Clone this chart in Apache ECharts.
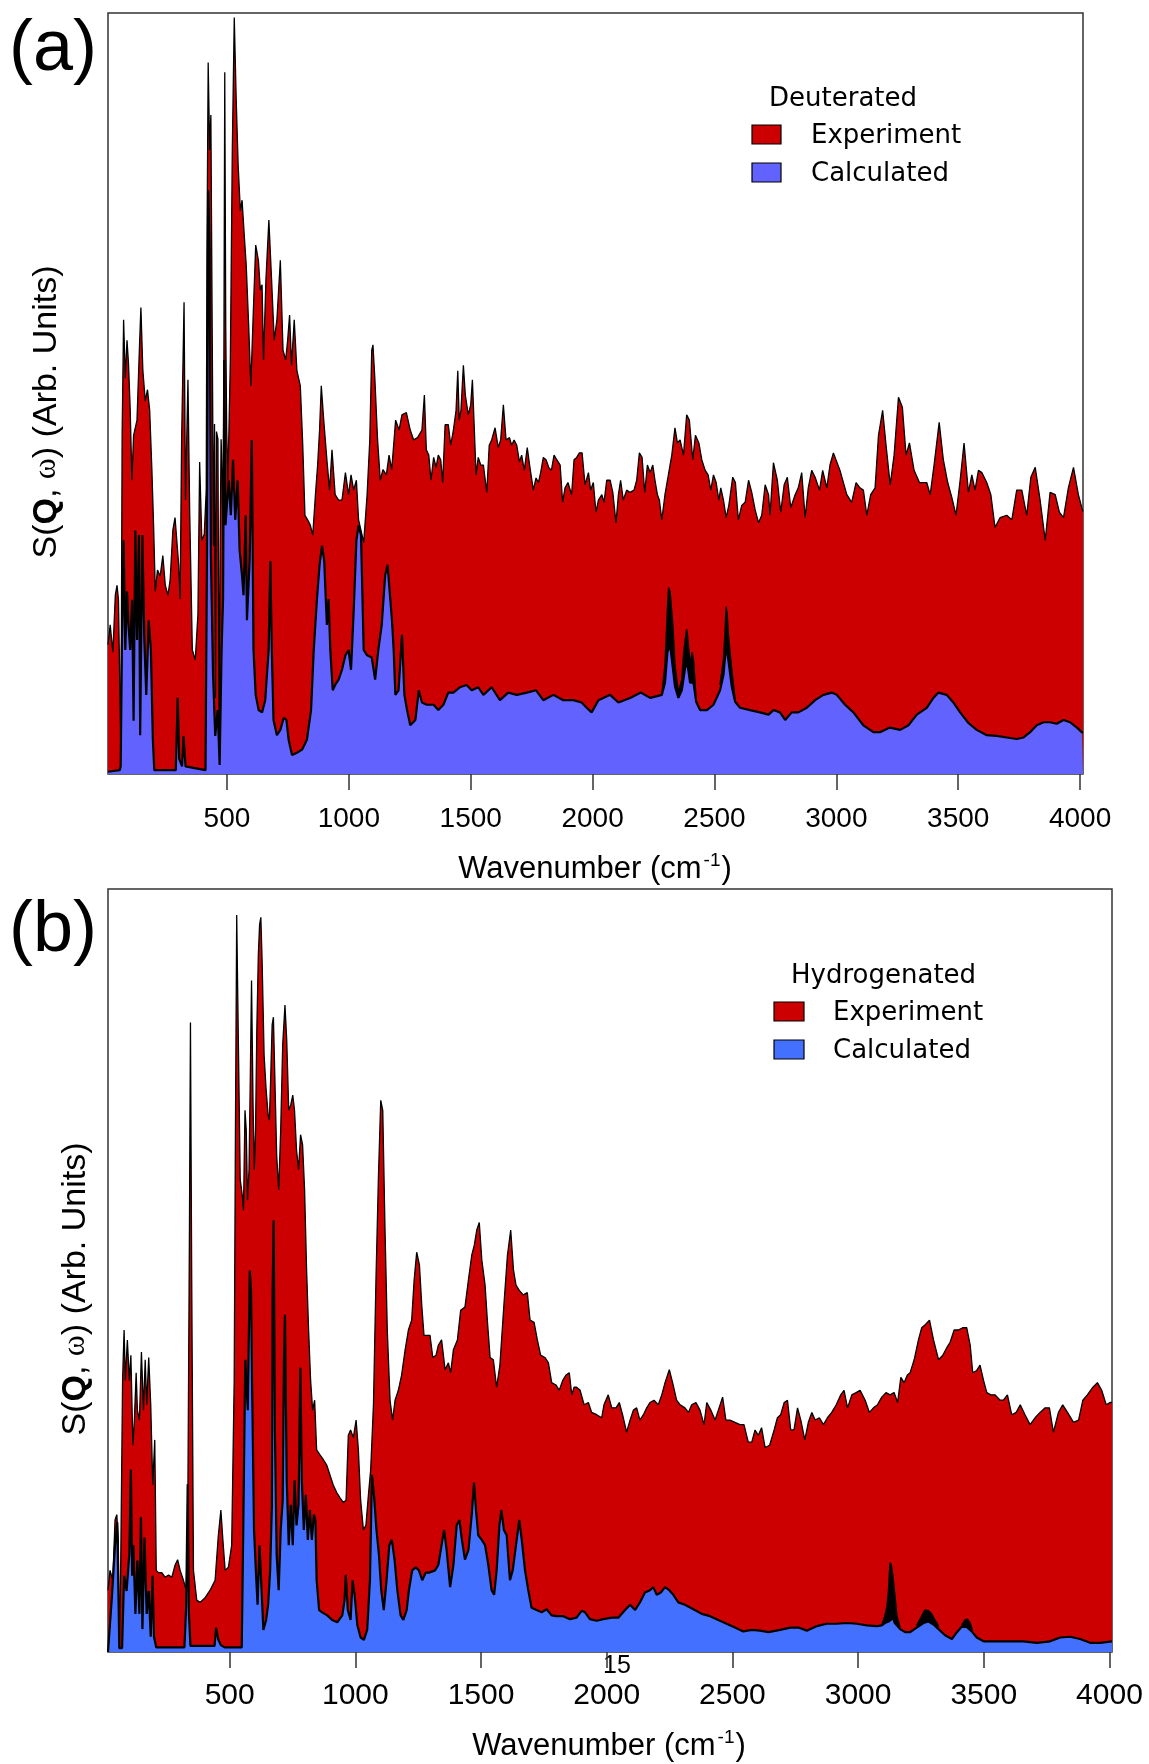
<!DOCTYPE html>
<html><head><meta charset="utf-8">
<script src="https://cdn.jsdelivr.net/npm/echarts@6/dist/echarts.min.js"></script>
<style>html,body{margin:0;padding:0;background:#fff}#c{width:1149px;height:1764px}</style>
</head><body><div id="c"></div>
<script>
// Tick labels (wavenumber, cm-1)
const tickValues = [500, 1000, 1500, 2000, 2500, 3000, 3500, 4000];

// Panel (a) Deuterated: experiment [wavenumber, S(Q,w) arb. units]
const deutExp = [[12,17],[21,19.6],[32,16],[42,23.5],[49,24.8],[55,22.9],[65,2],[70,44.5],[76,59.7],[83,52],[90,57],[96,54],[103,48],[110,38.6],[117,44.5],[131,46.5],[142,57],[147,61.3],[155,53],[165,49],[174,50.5],[183,47.8],[192,40],[199,32.7],[206,24],[215,26.8],[226,26],[237,28.7],[247,24.8],[258,23.5],[267,25.5],[278,32],[287,33.7],[302,27.5],[308,23],[314,43.9],[324,62],[330,36],[340,51.8],[347,34.7],[358,16.3],[370,15],[381,21],[388,41],[397,30.7],[407,31.5],[415,37.3],[418,68.9],[423,93.5],[429,82],[434,86.6],[440,55.7],[445,30],[449,46],[453,10],[457,45],[463,44],[468,3],[472,30],[476,44],[480,40],[484,29.4],[487,50],[491,92.2],[495,59],[499,45],[504,38.6],[514,54.4],[522,82],[530,99.4],[538,88.6],[546,80],[555,74],[562,75.4],[571,70.8],[579,66.9],[589,59],[598,51],[607,59.7],[618,69.5],[629,67.5],[637,63.6],[644,64.3],[650,54.4],[660,65],[672,72.8],[683,65],[694,57],[705,59.7],[719,67.5],[730,55.7],[741,54.4],[749,57],[757,60.3],[765,53.7],[776,59.7],[787,53],[801,51],[811,43.2],[820,34],[831,33.4],[842,32.7],[852,31.4],[863,36.7],[872,40.6],[880,45.2],[887,51],[897,46.5],[910,41.3],[921,37.3],[931,42.6],[944,36.7],[958,36],[972,36],[986,39.6],[999,36.7],[1009,39.3],[1020,37.3],[1031,38.6],[1040,33.4],[1050,32],[1061,30.4],[1075,36.7],[1086,43.9],[1094,55.7],[1099,56.4],[1107,51.8],[1118,43.9],[1129,38.6],[1140,40],[1154,39.3],[1165,41.9],[1176,40],[1192,46.5],[1206,45.2],[1218,47.2],[1236,47.5],[1252,45.2],[1266,43.9],[1282,44.2],[1300,45.2],[1310,49.8],[1318,42.6],[1328,41.9],[1337,38.6],[1348,41.6],[1358,40.3],[1367,41.9],[1377,41.3],[1385,38.3],[1395,45.9],[1408,45.9],[1418,43.2],[1429,45.2],[1440,47.8],[1447,53],[1453,46.5],[1460,47.8],[1470,53.7],[1478,49.8],[1490,47.2],[1500,48.5],[1507,51.8],[1522,39.3],[1531,41.6],[1541,40.6],[1552,40.6],[1566,37],[1576,43.2],[1586,43.9],[1600,45.5],[1613,42.9],[1623,43.9],[1634,48.5],[1645,43.9],[1659,44.2],[1668,43.2],[1678,43.9],[1689,43.2],[1700,41],[1709,41.9],[1720,39.9],[1732,42.9],[1743,40.3],[1757,37.3],[1768,38.9],[1778,38.3],[1787,39.6],[1798,41.6],[1809,41.3],[1820,40.3],[1831,39.9],[1842,41.9],[1853,41.3],[1867,40.6],[1877,35.7],[1887,37.6],[1899,38.3],[1914,36.7],[1924,41.3],[1935,41.6],[1946,42.2],[1957,42.2],[1969,38],[1983,39.6],[1992,37.3],[2003,38.3],[2014,34.4],[2024,36],[2038,36.7],[2047,35.7],[2058,38.6],[2072,38.6],[2083,37],[2096,33],[2106,36.7],[2115,38.6],[2126,36],[2140,37.3],[2154,37],[2170,37.3],[2181,38.6],[2192,42.2],[2203,41.6],[2214,37],[2225,40.6],[2236,39.6],[2247,40.6],[2256,38.6],[2266,36.7],[2274,36],[2284,33.4],[2297,36.7],[2311,39.3],[2325,41.9],[2338,45.5],[2348,43.5],[2359,43.9],[2373,41.9],[2386,47.2],[2397,46.5],[2411,41.3],[2422,44.5],[2436,43.5],[2448,41.3],[2462,39.9],[2474,39.3],[2485,37.3],[2496,39.3],[2507,38.3],[2518,36],[2526,37.6],[2537,36],[2548,33.7],[2559,35.3],[2575,39],[2586,38.3],[2598,33.4],[2612,35.3],[2626,35.7],[2640,38.6],[2653,37],[2667,34.7],[2681,33],[2694,34],[2708,38],[2722,36.7],[2728,34],[2742,40.9],[2758,38.6],[2772,34.4],[2786,38],[2799,39],[2813,35],[2831,36.7],[2844,37.6],[2858,39.6],[2872,33.7],[2885,37.6],[2899,39.9],[2913,39],[2931,37.3],[2944,39.9],[2961,37.6],[2974,40.6],[2988,42.2],[3015,39.9],[3043,36.7],[3063,35.7],[3081,38.3],[3097,37.6],[3111,37.3],[3125,34],[3141,36.7],[3159,37.6],[3173,44.5],[3190,47.8],[3204,43.2],[3221,38],[3237,41.9],[3255,49.5],[3271,48.2],[3286,41.9],[3300,43.5],[3319,39.9],[3341,38.3],[3357,38.3],[3371,38.3],[3385,36.7],[3401,40.6],[3422,46.2],[3439,41.3],[3457,38.3],[3474,36.3],[3491,34],[3508,38.6],[3524,43.5],[3542,37],[3556,39.3],[3569,37.3],[3583,39.9],[3597,39.6],[3617,38.3],[3634,36.7],[3651,32.4],[3672,33.7],[3699,34],[3720,33.4],[3740,37.3],[3761,37.3],[3781,34],[3798,39],[3816,40.3],[3836,36],[3857,30.7],[3877,37],[3898,36.7],[3915,34.4],[3932,33.7],[3952,37.6],[3973,40.3],[3993,36.7],[4007,35],[4012,34.5]];

// Panel (a) Deuterated: calculated
const deutCalc = [[12,0.3],[60,0.5],[64,1],[69,16.3],[76,30.7],[83,16.3],[90,24],[96,19.6],[103,16.3],[111,22.9],[117,7],[124,32],[131,17.6],[139,31.4],[144,5.1],[153,31.4],[161,17.6],[169,10.4],[179,20.2],[188,16.3],[196,4.5],[202,0.5],[290,0.5],[298,10],[304,2],[316,1],[322,5],[330,1],[412,0.5],[418,29],[423,76.7],[429,69],[434,29],[443,13],[452,5],[462,8.4],[470,1.2],[478,16.3],[484,23],[489,54.4],[494,32.7],[507,38.6],[516,34],[525,41.3],[534,33.4],[544,38.6],[552,29.4],[562,26],[568,23.5],[577,34],[582,20.2],[593,28],[602,43.9],[609,16.3],[618,10.4],[630,8.4],[644,8.1],[657,9.7],[671,16.3],[678,28],[684,16.3],[691,7.1],[705,5.1],[719,5.8],[733,7.4],[744,7.1],[753,4.5],[767,2.5],[787,2.8],[808,3.2],[828,4.5],[845,8.4],[856,16.3],[869,22.9],[880,27.5],[890,30],[899,28],[910,19.6],[917,23],[924,16.3],[934,11],[944,11.7],[958,12.4],[972,13.7],[986,15.6],[999,16.3],[1009,13.7],[1020,21.5],[1031,30.7],[1040,32.7],[1050,31.4],[1061,16.3],[1075,15.6],[1094,15.3],[1108,12.4],[1121,16.3],[1135,19.6],[1149,26.1],[1159,27.5],[1167,24.2],[1177,20.2],[1184,16.3],[1191,10.4],[1204,11],[1218,18.3],[1228,10.4],[1239,8.4],[1252,6.4],[1273,7.1],[1287,11],[1300,9.4],[1320,9.1],[1348,9.1],[1367,8.4],[1388,9.1],[1408,10.7],[1429,10.7],[1456,11.4],[1483,11.7],[1504,11],[1531,11.4],[1552,10.4],[1586,11.4],[1620,9.7],[1654,10.7],[1689,10.4],[1730,10.7],[1768,11],[1798,9.7],[1839,10.4],[1880,9.7],[1921,9.7],[1955,9.4],[1976,8.7],[1996,8.1],[2024,9.7],[2072,10.4],[2106,9.4],[2154,10],[2198,10.7],[2236,10],[2284,10.4],[2297,12],[2307,16],[2318,17],[2329,14],[2338,11.5],[2352,10],[2366,11],[2380,14],[2389,14.5],[2400,12],[2414,12],[2425,9.5],[2441,8.4],[2469,8.4],[2496,9.1],[2523,11],[2537,13],[2548,17],[2557,15],[2571,11.5],[2585,9.5],[2605,8.7],[2646,8.4],[2687,8.1],[2722,7.8],[2742,8.4],[2769,8.1],[2790,7.1],[2817,8.1],[2844,8.1],[2879,8.7],[2913,9.7],[2947,10.4],[2981,10.7],[3002,10.4],[3036,9.1],[3070,8.1],[3111,6.4],[3152,5.5],[3179,5.5],[3220,6.1],[3262,5.8],[3296,6.4],[3330,7.8],[3371,8.7],[3398,10],[3419,10.7],[3453,10.4],[3480,9.4],[3508,8.1],[3542,6.7],[3576,5.8],[3617,5.1],[3658,5],[3699,4.8],[3740,4.6],[3768,4.8],[3795,5.5],[3822,6.4],[3850,6.8],[3877,6.8],[3904,6.6],[3932,7.1],[3959,6.8],[3987,6.1],[4007,5.5],[4012,5.4]];

// Panel (a): upper edge of the noisy black band around the calculated peaks
const deutCalcBand1 = [[2284,10.4],[2297,14.3],[2307,21.5],[2312,24.5],[2318,23.9],[2329,19.6],[2338,14.3],[2352,10.7],[2366,12.4],[2374,16],[2380,17.6],[2386,19],[2389,18.3],[2400,14.3],[2408,16],[2414,15],[2425,9.7]];
const deutCalcBand2 = [[2523,11.7],[2537,15],[2544,19],[2548,22],[2552,21],[2557,18.3],[2571,13.7],[2585,9.7]];

// Panel (b) Hydrogenated: experiment
const hydExp = [[16,8.1],[24,10.7],[35,9.4],[44,17.3],[51,18],[57,14.7],[61,0.3],[66,9.4],[74,35.6],[80,42.2],[85,35.6],[93,40.9],[101,35.6],[107,38.9],[115,27.1],[121,30.4],[128,36.6],[133,31.7],[141,30.4],[149,39.3],[157,31.7],[164,38.3],[170,32.4],[178,38.6],[186,32.4],[194,21.9],[202,27.8],[208,10.7],[217,10.4],[230,10.4],[243,9.8],[257,10.1],[270,9.8],[283,11.4],[293,12.1],[303,10.7],[316,9.4],[327,8.1],[333,16],[340,55.3],[344,82.5],[349,48.8],[356,10.7],[369,6.8],[382,6.5],[402,7.1],[422,8.1],[442,9.4],[455,15.3],[465,18.6],[473,14.7],[482,10.7],[495,11.1],[508,14],[518,35.6],[523,68.4],[528,96.6],[534,81.5],[542,61.9],[550,59.9],[555,57.9],[561,71],[566,68.4],[571,59.2],[577,63.2],[582,75],[587,88],[593,71.7],[598,63.2],[603,68.4],[608,81.5],[614,91.3],[619,95.3],[624,96.3],[629,90.7],[637,78.2],[645,73.7],[653,70.4],[658,69.7],[663,75],[669,82.2],[674,83.2],[679,76.3],[687,65.1],[695,60.6],[703,68.4],[711,79.6],[720,84.8],[727,80.2],[735,71],[743,71.7],[751,73],[758,71],[766,65.8],[774,63.2],[782,67.8],[790,66.5],[798,60.6],[806,50.1],[814,42.2],[822,35.6],[830,31.7],[838,33],[846,26.5],[860,25.8],[873,25.2],[886,24.5],[899,23.2],[912,21.9],[926,20.9],[939,20.2],[952,19.6],[963,19.9],[972,28.4],[981,29.1],[992,28.1],[1003,30.4],[1012,26.5],[1021,19.9],[1032,16],[1042,16.6],[1052,20.6],[1061,23.9],[1072,32.4],[1082,48.8],[1092,62.5],[1101,72.3],[1109,71],[1118,55.3],[1127,42.2],[1138,33],[1148,30.4],[1158,33],[1171,34.3],[1184,36.3],[1198,39.6],[1211,42.2],[1224,43.5],[1234,48.8],[1244,52.4],[1255,50.7],[1264,45.5],[1273,41.5],[1284,41.5],[1297,41.5],[1308,38.6],[1321,38.9],[1330,40.2],[1343,40.9],[1357,37],[1370,37.9],[1379,36.6],[1390,39.6],[1406,40.9],[1419,44.8],[1436,45.2],[1450,48.8],[1463,52],[1473,53.3],[1483,55.3],[1493,56.3],[1503,51.4],[1516,48.1],[1525,43.5],[1536,38.6],[1549,38.3],[1562,34.7],[1575,37.6],[1591,45.5],[1605,52],[1618,55.3],[1629,50.1],[1639,48.1],[1652,47.4],[1668,46.8],[1684,47.1],[1695,43.5],[1711,43.2],[1724,40.9],[1737,38.9],[1754,38.6],[1768,37.9],[1781,35.3],[1798,35],[1811,34.3],[1825,35.6],[1838,36.3],[1851,36.6],[1861,33.7],[1870,34.7],[1880,34.7],[1894,34.3],[1910,32.4],[1927,32.7],[1940,31.4],[1960,31.1],[1980,30.7],[1989,32.4],[2006,33.7],[2020,32],[2037,32],[2050,32.7],[2063,31.1],[2079,28.8],[2093,30.4],[2106,31.7],[2119,32],[2132,30.4],[2146,31.1],[2159,32],[2172,32.7],[2188,33],[2205,32.4],[2219,33.7],[2232,35.3],[2249,37],[2262,35.3],[2278,33],[2292,32.4],[2311,32],[2325,31.4],[2338,32.4],[2355,32.7],[2371,31.7],[2387,29.8],[2398,32.7],[2414,31.7],[2431,30.4],[2444,31.7],[2461,33.4],[2474,30.4],[2490,30.4],[2510,30.1],[2530,29.8],[2546,29.8],[2563,27.5],[2577,27.5],[2590,29.1],[2603,28.4],[2616,29.4],[2630,26.8],[2648,27.1],[2666,29.1],[2679,30.7],[2692,31.1],[2706,32.7],[2719,33],[2732,29.1],[2745,29.1],[2759,32],[2772,30.4],[2788,27.8],[2802,30.1],[2816,31.4],[2829,30.4],[2846,30.7],[2862,29.8],[2878,30.7],[2895,31.4],[2913,32.4],[2931,33.7],[2944,34.3],[2958,32],[2975,33.7],[2992,34],[3008,34.3],[3028,33],[3045,31.4],[3061,32],[3077,32.4],[3094,33.4],[3111,34],[3127,33.7],[3143,34],[3157,32.7],[3170,36],[3183,35.3],[3196,36.3],[3207,36.6],[3223,38.3],[3240,40.9],[3253,42.5],[3267,42.9],[3284,43.5],[3300,40.9],[3320,38.3],[3337,38.9],[3353,39.9],[3366,40.6],[3382,42.2],[3399,42.2],[3416,42.5],[3432,42.5],[3446,40.2],[3456,36.6],[3472,36.9],[3485,37.6],[3499,35.6],[3512,34],[3528,33.7],[3545,33.7],[3565,33],[3578,33],[3594,33.7],[3611,31.1],[3629,31.4],[3645,32.4],[3664,31.1],[3684,29.8],[3704,30.7],[3724,31.4],[3744,32],[3761,32],[3777,28.8],[3797,31.4],[3814,32.4],[3833,31.4],[3857,30.1],[3877,30.4],[3894,33],[3912,33.7],[3934,34.7],[3952,35.3],[3969,34.3],[3987,32.4],[4002,32.7],[4010,32.7]];

// Panel (b) Hydrogenated: calculated
const hydCalc = [[16,0],[31,7],[44,14],[53,17],[61,0.5],[72,0.5],[80,10],[90,8],[101,13],[107,23.9],[112,10],[117,14],[125,5],[133,12],[141,5],[147,17.7],[153,3],[161,15],[170,5],[178,8],[186,2],[193,10],[199,2],[208,0.6],[320,0.6],[327,6],[333,22],[338,5],[344,0.8],[440,0.8],[446,3.2],[455,1.6],[465,0.9],[480,0.6],[548,0.6],[554,16],[562,38.3],[572,31.7],[580,50],[585,47.4],[589,35.6],[597,16],[605,10.1],[611,6.2],[619,14],[627,8.1],[634,2.9],[645,4.2],[653,6.2],[661,10.7],[668,19.3],[671,47.4],[675,56.6],[680,29.1],[687,12.7],[695,8.1],[703,16],[711,19.9],[716,38.3],[720,44.2],[727,22.5],[735,14],[743,19.3],[751,14],[758,22.5],[766,16.6],[774,19.3],[781,37.3],[787,22.5],[795,16],[803,20.6],[811,14.7],[819,18.6],[827,14.7],[835,18],[841,17.3],[846,9.4],[856,5.5],[868,5.2],[888,4.8],[908,4.2],[928,3.9],[948,4.8],[957,6.8],[962,10.1],[970,5.5],[981,4.2],[989,9.4],[997,7.5],[1008,3.5],[1021,1.9],[1034,1.6],[1047,2.9],[1058,9.4],[1066,23.2],[1074,20.6],[1084,16],[1094,12.7],[1103,8.1],[1113,5.5],[1124,9.4],[1135,14],[1145,14.7],[1156,12.1],[1167,8.1],[1180,4.8],[1191,4.2],[1204,5.5],[1213,8.1],[1226,10.7],[1240,11.1],[1253,10.7],[1266,9.4],[1280,10.4],[1293,10.4],[1317,10.7],[1330,11.4],[1343,14],[1353,16],[1363,13.4],[1377,8.5],[1390,11.4],[1403,16.6],[1414,17.3],[1424,14.7],[1436,12.1],[1450,13.4],[1463,18],[1472,22.2],[1480,18.6],[1489,15.3],[1503,14.7],[1516,14],[1529,11.4],[1542,8.1],[1552,7.5],[1562,10.7],[1573,16.6],[1581,18.6],[1591,16],[1602,15.3],[1615,9.4],[1626,10.7],[1639,14],[1652,17.3],[1662,14.7],[1675,10.7],[1688,8.1],[1701,5.8],[1721,5.5],[1741,5.2],[1761,5.6],[1781,4.8],[1801,4.7],[1827,4.7],[1854,4.3],[1880,4.5],[1900,5.4],[1914,5.2],[1933,4.3],[1960,4.1],[1986,4.3],[2020,4.5],[2046,4.5],[2073,5.5],[2093,6.2],[2113,5.5],[2132,6.5],[2152,7.8],[2172,8.1],[2185,8.5],[2199,7.5],[2215,7.8],[2232,8.5],[2249,8.1],[2265,7.5],[2285,6.5],[2311,6.2],[2345,5.6],[2378,5],[2411,4.7],[2444,4.2],[2477,3.7],[2510,3.2],[2543,2.7],[2577,2.9],[2610,2.8],[2643,2.6],[2690,2.9],[2730,3.2],[2763,3.2],[2796,2.8],[2836,3.4],[2875,3.7],[2915,3.7],[2955,3.8],[2995,3.7],[3035,3.5],[3074,3.4],[3094,3.5],[3107,3.8],[3121,4],[3130,4.2],[3138,4.5],[3146,3.8],[3154,3.5],[3167,3],[3187,2.6],[3207,2.6],[3233,3.2],[3260,3.8],[3280,4],[3300,3.6],[3320,3],[3346,2.2],[3373,1.7],[3393,2.6],[3412,3.3],[3432,3.3],[3452,2.7],[3472,1.9],[3499,1.4],[3552,1.4],[3605,1.4],[3658,1.4],[3711,1.2],[3764,1.4],[3804,1.9],[3843,2],[3883,1.7],[3923,1.2],[3963,1.2],[4010,1.4]];

// Panel (b): upper edge of the noisy black band around the calculated peaks
const hydCalcBand1 = [[3094,3.5],[3107,4.8],[3115,6],[3121,8.1],[3127,11.7],[3132,11.4],[3138,10],[3146,7.5],[3154,4.8],[3167,3.2]];
const hydCalcBand2 = [[3233,3.5],[3250,4.5],[3265,5.5],[3280,5.4],[3292,5],[3305,4.2],[3320,3.4]];
const hydCalcBand3 = [[3412,3.5],[3425,4.2],[3435,4.3],[3445,3.8],[3455,2.9]];

const RED = '#cc0000';
const BLUE_A = '#6262ff';
const BLUE_B = '#4470ff';

const chart = echarts.init(document.getElementById('c'), null, {renderer: 'canvas'});

const FONT = 'Liberation Sans, Arial, sans-serif';
const LEG = 'DejaVu Sans, Verdana, sans-serif';

function xAxisCfg(gridIndex, min, max, fontSize, margin) {
  return {
    type: 'value', gridIndex: gridIndex, min: min, max: max,
    axisLine: {show: false},
    splitLine: {show: false},
    axisTick: {show: true, inside: false, length: 16, customValues: tickValues,
      lineStyle: {color: '#333', width: 1.5}},
    axisLabel: {show: true, customValues: tickValues, margin: margin,
      formatter: function (v) { return String(v); },
      color: '#000', fontSize: fontSize, fontFamily: FONT}
  };
}
function yAxisCfg(gridIndex) {
  return {type: 'value', gridIndex: gridIndex, min: 0, max: 100,
    axisLine: {show: false}, axisTick: {show: false}, axisLabel: {show: false}, splitLine: {show: false}};
}
function areaSeries(name, data, idx, color, z, lw) {
  return {
    name: name, type: 'line', xAxisIndex: idx, yAxisIndex: idx, data: data,
    symbol: 'none', showSymbol: false, smooth: false, clip: true, z: z,
    lineStyle: {color: '#000', width: lw},
    areaStyle: {color: color, opacity: 1},
    emphasis: {disabled: true}
  };
}

function yTitle(x, y) {
  return {type: 'text', x: x, y: y, rotation: Math.PI / 2,
    style: {text: '{n|S(}{b|Q}{n|, }{o|ω}{n|) (Arb. Units)}', textAlign: 'center', textVerticalAlign: 'middle',
      rich: {n: {fontSize: 34, fontFamily: FONT, fill: '#000'},
             b: {fontSize: 34, fontFamily: FONT, fontWeight: 'bold', fill: '#000'},
             o: {fontSize: 32, fontFamily: 'Liberation Serif, serif', fill: '#000'}}}};
}
function xTitle(x, y) {
  return {type: 'text', x: x, y: y,
    style: {text: '{n|Wavenumber (cm}{s|-1}{n|)}', textAlign: 'center', textVerticalAlign: 'middle',
      rich: {n: {fontSize: 31, fontFamily: FONT, fill: '#000', lineHeight: 36},
             s: {fontSize: 19, fontFamily: FONT, fill: '#000', verticalAlign: 'top', lineHeight: 20, padding: [0, 1, 0, 2]}}}};
}
function legendBlock(title, tx, ty, sx, sy, w, h, blue) {
  return [
    {type: 'text', x: tx, y: ty, style: {text: title, font: '26px ' + LEG, fill: '#000', textVerticalAlign: 'middle'}},
    {type: 'rect', shape: {x: sx, y: sy, width: w, height: h}, style: {fill: RED, stroke: '#000', lineWidth: 1.2}},
    {type: 'text', x: sx + 59, y: sy + h / 2 + 2, style: {text: 'Experiment', font: '26px ' + LEG, fill: '#000', textVerticalAlign: 'middle'}},
    {type: 'rect', shape: {x: sx, y: sy + 38, width: w, height: h}, style: {fill: blue, stroke: '#000', lineWidth: 1.2}},
    {type: 'text', x: sx + 59, y: sy + 38 + h / 2 + 2, style: {text: 'Calculated', font: '26px ' + LEG, fill: '#000', textVerticalAlign: 'middle'}}
  ];
}

const series = [
  areaSeries('Experiment', deutExp, 0, RED, 2, 1.3),
  areaSeries('Calculated band', deutCalcBand1, 0, '#000', 3, 1.5),
  areaSeries('Calculated band', deutCalcBand2, 0, '#000', 3, 1.5),
  areaSeries('Calculated', deutCalc, 0, BLUE_A, 4, 2.2),
  areaSeries('Experiment', hydExp, 1, RED, 2, 1.3),
  areaSeries('Calculated band', hydCalcBand1, 1, '#000', 3, 1.5),
  areaSeries('Calculated band', hydCalcBand2, 1, '#000', 3, 1.5),
  areaSeries('Calculated band', hydCalcBand3, 1, '#000', 3, 1.5),
  areaSeries('Calculated', hydCalc, 1, BLUE_B, 4, 2.2)
];

const option = {
  animation: false,
  backgroundColor: '#fff',
  grid: [
    {left: 108, top: 13, width: 975, height: 761, show: true, borderColor: '#333', borderWidth: 1.5, backgroundColor: 'transparent'},
    {left: 108, top: 889, width: 1004, height: 763, show: true, borderColor: '#333', borderWidth: 1.5, backgroundColor: 'transparent'}
  ],
  xAxis: [xAxisCfg(0, 12, 4012, 28, 31), xAxisCfg(1, 16, 4010, 30, 29)],
  yAxis: [yAxisCfg(0), yAxisCfg(1)],
  series: series,
  graphic: [
    {type: 'text', x: 9, y: 50, style: {text: '(a)', font: '72px ' + FONT, fill: '#000', textVerticalAlign: 'middle'}},
    {type: 'text', x: 9, y: 931, style: {text: '(b)', font: '72px ' + FONT, fill: '#000', textVerticalAlign: 'middle'}},
    yTitle(47, 412),
    yTitle(76, 1289),
    xTitle(595, 869),
    xTitle(609, 1746),
    {type: 'text', x: 617, y: 1666, style: {text: '15', font: '25px ' + FONT, fill: '#000', textAlign: 'center', textVerticalAlign: 'middle'}}
  ].concat(legendBlock('Deuterated', 769, 99, 752, 125, 29, 19, BLUE_A))
   .concat(legendBlock('Hydrogenated', 791, 976, 774, 1002, 30, 19, BLUE_B))
};
chart.setOption(option);
</script>
</body></html>
